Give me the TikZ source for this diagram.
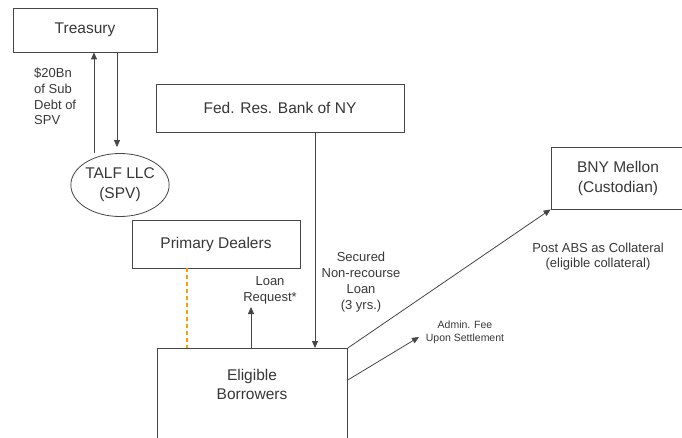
\documentclass[tikz,border=0pt]{standalone}
\usepackage{fontspec}
\setmainfont{Liberation Sans}
\usetikzlibrary{arrows.meta,shapes.geometric,calc}
\definecolor{lc}{RGB}{70,70,70}
\definecolor{tc}{RGB}{55,55,55}
\definecolor{dorange}{RGB}{255,160,0}
\begin{document}
\begin{tikzpicture}[x=1pt,y=-1pt,
  box/.style={draw=lc,line width=0.8pt,rectangle,inner sep=0pt,text=tc,align=center,font=\fontsize{15.5}{20}\selectfont},
  lbl/.style={inner sep=0pt,text=tc,align=center,font=\fontsize{13}{15.8}\selectfont},
  small/.style={inner sep=0pt,text=tc,align=center,font=\fontsize{10.5}{13}\selectfont},
  conn/.style={draw=lc,line width=0.8pt},
  arr/.style={conn,-{Triangle[length=7pt,width=6pt]}}]
\useasboundingbox (0,0) rectangle (682,438);
\clip (0,0) rectangle (682,438);
% boxes
\node[box,minimum width=144,minimum height=44] (tre) at (85,30) {Treasury};
\node[box,ellipse,minimum width=97,minimum height=63] (spv) at (120,185) {TALF LLC\\(SPV)};
\node[box,minimum width=248,minimum height=48] (fed) at (280,108) {Fed. Res. Bank of NY};
\node[box,minimum width=168,minimum height=48] (pd) at (216,244) {Primary Dealers};
\node[box,minimum width=134,minimum height=62] (bny) at (618,178) {BNY Mellon\\(Custodian)};
\node[box,minimum width=190,minimum height=172,anchor=north west] (eb) at (157,348) {};
\node[box,draw=none,font=\fontsize{15.5}{19}\selectfont] (ebt) at (252,384) {Eligible\\Borrowers};
% helper coordinates
\coordinate (xa) at (94,0);
\coordinate (xb) at (117,0);
\coordinate (xc) at (251,0);
\coordinate (xd) at (315,0);
\coordinate (xe) at (187,0);
\coordinate (lr) at (251,307);
\coordinate (af) at (419,337);
% connectors
\draw[arr] (spv.north -| xa) -- (tre.south -| xa);
\draw[arr,shorten >=6pt] (tre.south -| xb) -- (spv.north -| xb);
\draw[arr] (fed.south -| xd) -- (eb.north -| xd);
\draw[arr] (eb.north -| xc) -- (lr);
\draw[draw=dorange,line width=1.3pt,dash pattern=on 4pt off 3pt] (pd.south -| xe) -- (eb.north -| xe);
\draw[arr] (eb.north east) -- (bny.south west);
\draw[arr] ($(eb.north east)+(0,32)$) -- (af);
% labels
\node[lbl,anchor=west,align=left] (l20) at (34,96.5) {\$20Bn\\of Sub\\Debt of\\SPV};
\node[lbl,font=\fontsize{13}{16}\selectfont] (llr) at (270,290) {Loan\\Request*};
\node[lbl,font=\fontsize{13}{16}\selectfont] (lsec) at (361,282) {Secured\\Non-recourse\\Loan\\(3 yrs.)};
\node[small] (ladm) at (465,332.5) {Admin. Fee\\Upon Settlement};
\node[lbl,font=\fontsize{13}{15.5}\selectfont] (labs) at (598,256.5) {Post ABS as Collateral\\(eligible collateral)};
\end{tikzpicture}
\end{document}
